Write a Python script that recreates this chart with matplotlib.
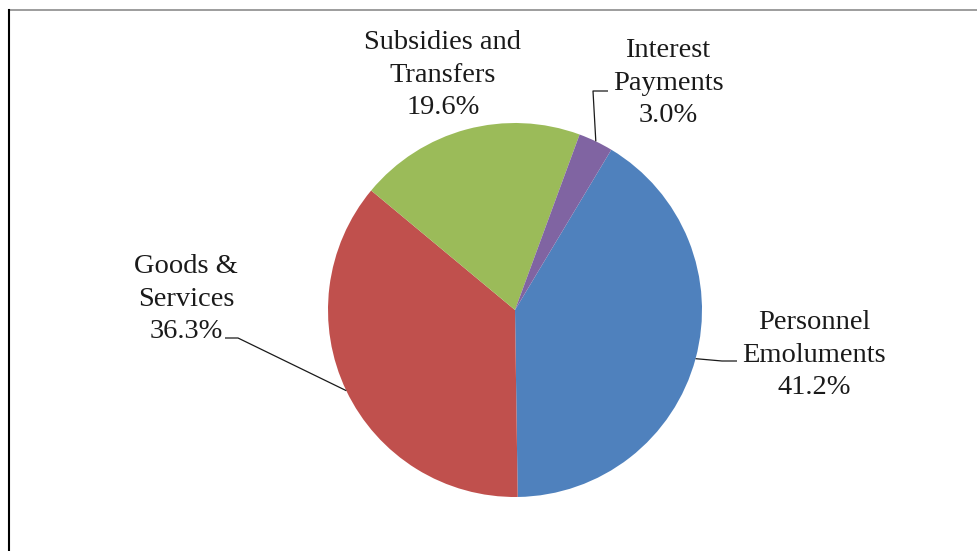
import matplotlib
matplotlib.use("Agg")
import matplotlib.pyplot as plt
import numpy as np
from matplotlib.lines import Line2D

categories = ["Personnel\nEmoluments", "Goods &\nServices", "Subsidies and\nTransfers", "Interest\nPayments"]
values = [41.2, 36.3, 19.6, 3.0]
colors = ["#4F81BD", "#C0504D", "#9BBB59", "#8064A2"]

W, H = 977, 551
fig = plt.figure(figsize=(W / 100, H / 100), dpi=100)
ax = fig.add_axes([0, 0, 1, 1])

cx, cy, R = 515, H - 310, 187
wedges, _ = ax.pie(values, colors=colors, startangle=59, counterclock=False,
                   center=(cx, cy), radius=R, wedgeprops=dict(linewidth=0))
ax.set_xlim(0, W)
ax.set_ylim(0, H)
ax.set_aspect("equal")
ax.axis("off")

font = dict(family="Liberation Serif", fontsize=20.5, color="#1a1a1a",
            ha="center", va="center", linespacing=1.4)

# label centres (pixel layout, y from top)
label_pos = [(814, 355), (186, 299), (443, 75), (668, 83)]
# leader line elbow points (pixel layout, y from top): [text end, elbow]
leaders = {
    0: [(737, 361), (722, 361)],
    1: [(225, 338), (238, 338)],
    3: [(608, 91), (593, 91)],
}

for i, (w, lab, v) in enumerate(zip(wedges, categories, values)):
    x, y = label_pos[i]
    ax.text(x, H - y, f"{lab}\n{v:.1f}%", **font)
    if i in leaders:
        mid = np.deg2rad((w.theta1 + w.theta2) / 2)
        ex, ey = cx + R * np.cos(mid), cy + R * np.sin(mid)
        pts = [(px, H - py) for px, py in leaders[i]] + [(ex, ey)]
        xs, ys = zip(*pts)
        ax.plot(xs, ys, color="#1a1a1a", lw=0.9, solid_capstyle="butt")

# partial frame
fig.add_artist(Line2D([9 / W, 1], [1 - 10 / H, 1 - 10 / H], color="#8c8c8c", lw=1.2,
                      transform=fig.transFigure))
fig.add_artist(Line2D([9 / W, 9 / W], [0, 1 - 10 / H], color="black", lw=1.5,
                      transform=fig.transFigure))

fig.savefig("out.png", dpi=100, facecolor="white")
